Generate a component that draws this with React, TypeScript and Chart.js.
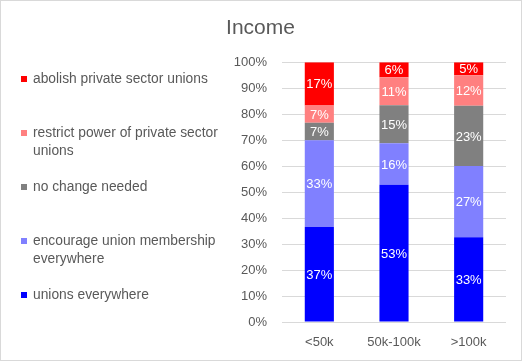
import React, { useEffect, useRef } from "react";
import { Chart, registerables } from "chart.js";

Chart.register(...registerables);

const chartTitle = "Income";
const categories = ["<50k", "50k-100k", ">100k"];
const seriesNames = [
  "unions everywhere",
  "encourage union membership everywhere",
  "no change needed",
  "restrict power of private sector unions",
  "abolish private sector unions",
];
const seriesColors = ["#0000FF", "#8080FF", "#808080", "#FF8080", "#FF0000"];
const unionsEverywhere = [36.6, 52.8, 32.6];
const encourageMembership = [33.4, 16.0, 27.4];
const noChangeNeeded = [6.7, 14.6, 23.2];
const restrictPower = [6.6, 10.8, 11.8];
const abolishUnions = [16.7, 5.8, 5.0];
const seriesValues = [unionsEverywhere, encourageMembership, noChangeNeeded, restrictPower, abolishUnions];
const yMin = 0;
const yMax = 100;
const yStep = 10;

const FONT = "'Liberation Sans', Arial, sans-serif";
const TEXT = "#595959";

const CANVAS_W = 520;
const CANVAS_H = 359;

const legendPlugin = {
  id: "leftLegend",
  afterDraw(chart: any) {
    const ctx = chart.ctx;
    ctx.save();
    ctx.font = `13.8px ${FONT}`;
    ctx.textBaseline = "middle";
    ctx.textAlign = "left";
    const x = 20;
    const top = 78;
    const step = 54;
    const lineH = 18;
    const maxW = 192;
    const items = chart.data.datasets.map((d: any) => ({ label: d.label, color: d.backgroundColor })).reverse();
    items.forEach((it: any, k: number) => {
      const y = top + k * step;
      ctx.fillStyle = it.color;
      ctx.fillRect(x, y - 3, 6, 6);
      const words = it.label.split(" ");
      const lines: string[] = [];
      let cur = "";
      words.forEach((w: string) => {
        const test = cur ? cur + " " + w : w;
        if (ctx.measureText(test).width > maxW && cur) {
          lines.push(cur);
          cur = w;
        } else cur = test;
      });
      if (cur) lines.push(cur);
      ctx.fillStyle = TEXT;
      lines.forEach((ln, j) => ctx.fillText(ln, x + 12, y + j * lineH));
    });
    ctx.restore();
  },
};

const dataLabelPlugin = {
  id: "segLabels",
  afterDatasetsDraw(chart: any) {
    const ctx = chart.ctx;
    ctx.save();
    ctx.font = `13px ${FONT}`;
    ctx.fillStyle = "#FFFFFF";
    ctx.textAlign = "center";
    ctx.textBaseline = "middle";
    chart.data.datasets.forEach((ds: any, di: number) => {
      const meta = chart.getDatasetMeta(di);
      meta.data.forEach((bar: any, i: number) => {
        const { x, y, base } = bar.getProps(["x", "y", "base"], true);
        ctx.fillText(Math.round(ds.data[i]) + "%", x, (y + base) / 2 + 1);
      });
    });
    ctx.restore();
  },
};

export default function App() {
  const ref = useRef<HTMLCanvasElement>(null);
  useEffect(() => {
    document.body.style.margin = "0";
    const chart = new Chart(ref.current!, {
      type: "bar",
      data: {
        labels: categories,
        datasets: seriesNames.map((name, i) => ({
          label: name,
          data: seriesValues[i],
          backgroundColor: seriesColors[i],
          borderWidth: 0,
          categoryPercentage: 1,
          barPercentage: 0.39,
        })),
      },
      options: {
        responsive: false,
        animation: false,
        layout: { padding: { left: 14, right: 15, top: 8, bottom: 0 } },
        plugins: {
          legend: { display: false },
          tooltip: { enabled: false },
          title: {
            display: true,
            text: chartTitle,
            color: TEXT,
            font: { family: FONT, size: 21, weight: "normal" },
            padding: { top: 7, bottom: 21 },
          },
        },
        scales: {
          x: {
            stacked: true,
            grid: { display: false },
            border: { display: false },
            ticks: { color: TEXT, font: { family: FONT, size: 13 }, padding: 5 },
            afterFit: (s: any) => {
              s.height = 38;
            },
          },
          y: {
            stacked: true,
            min: yMin,
            max: yMax,
            ticks: {
              stepSize: yStep,
              color: TEXT,
              font: { family: FONT, size: 13 },
              padding: 15,
              callback: (v: any) => v + "%",
            },
            grid: { color: "#D9D9D9", drawTicks: false },
            border: { display: false },
            afterFit: (s: any) => {
              s.width = 267;
            },
          },
        },
      },
      plugins: [legendPlugin, dataLabelPlugin],
    });
    return () => chart.destroy();
  }, []);
  return (
    <div
      style={{
        position: "absolute",
        left: 0,
        top: 0,
        width: 522,
        height: 361,
        border: "1px solid #D9D9D9",
        boxSizing: "border-box",
        background: "#fff",
      }}
    >
      <canvas ref={ref} width={CANVAS_W} height={CANVAS_H} style={{ display: "block" }} />
    </div>
  );
}
